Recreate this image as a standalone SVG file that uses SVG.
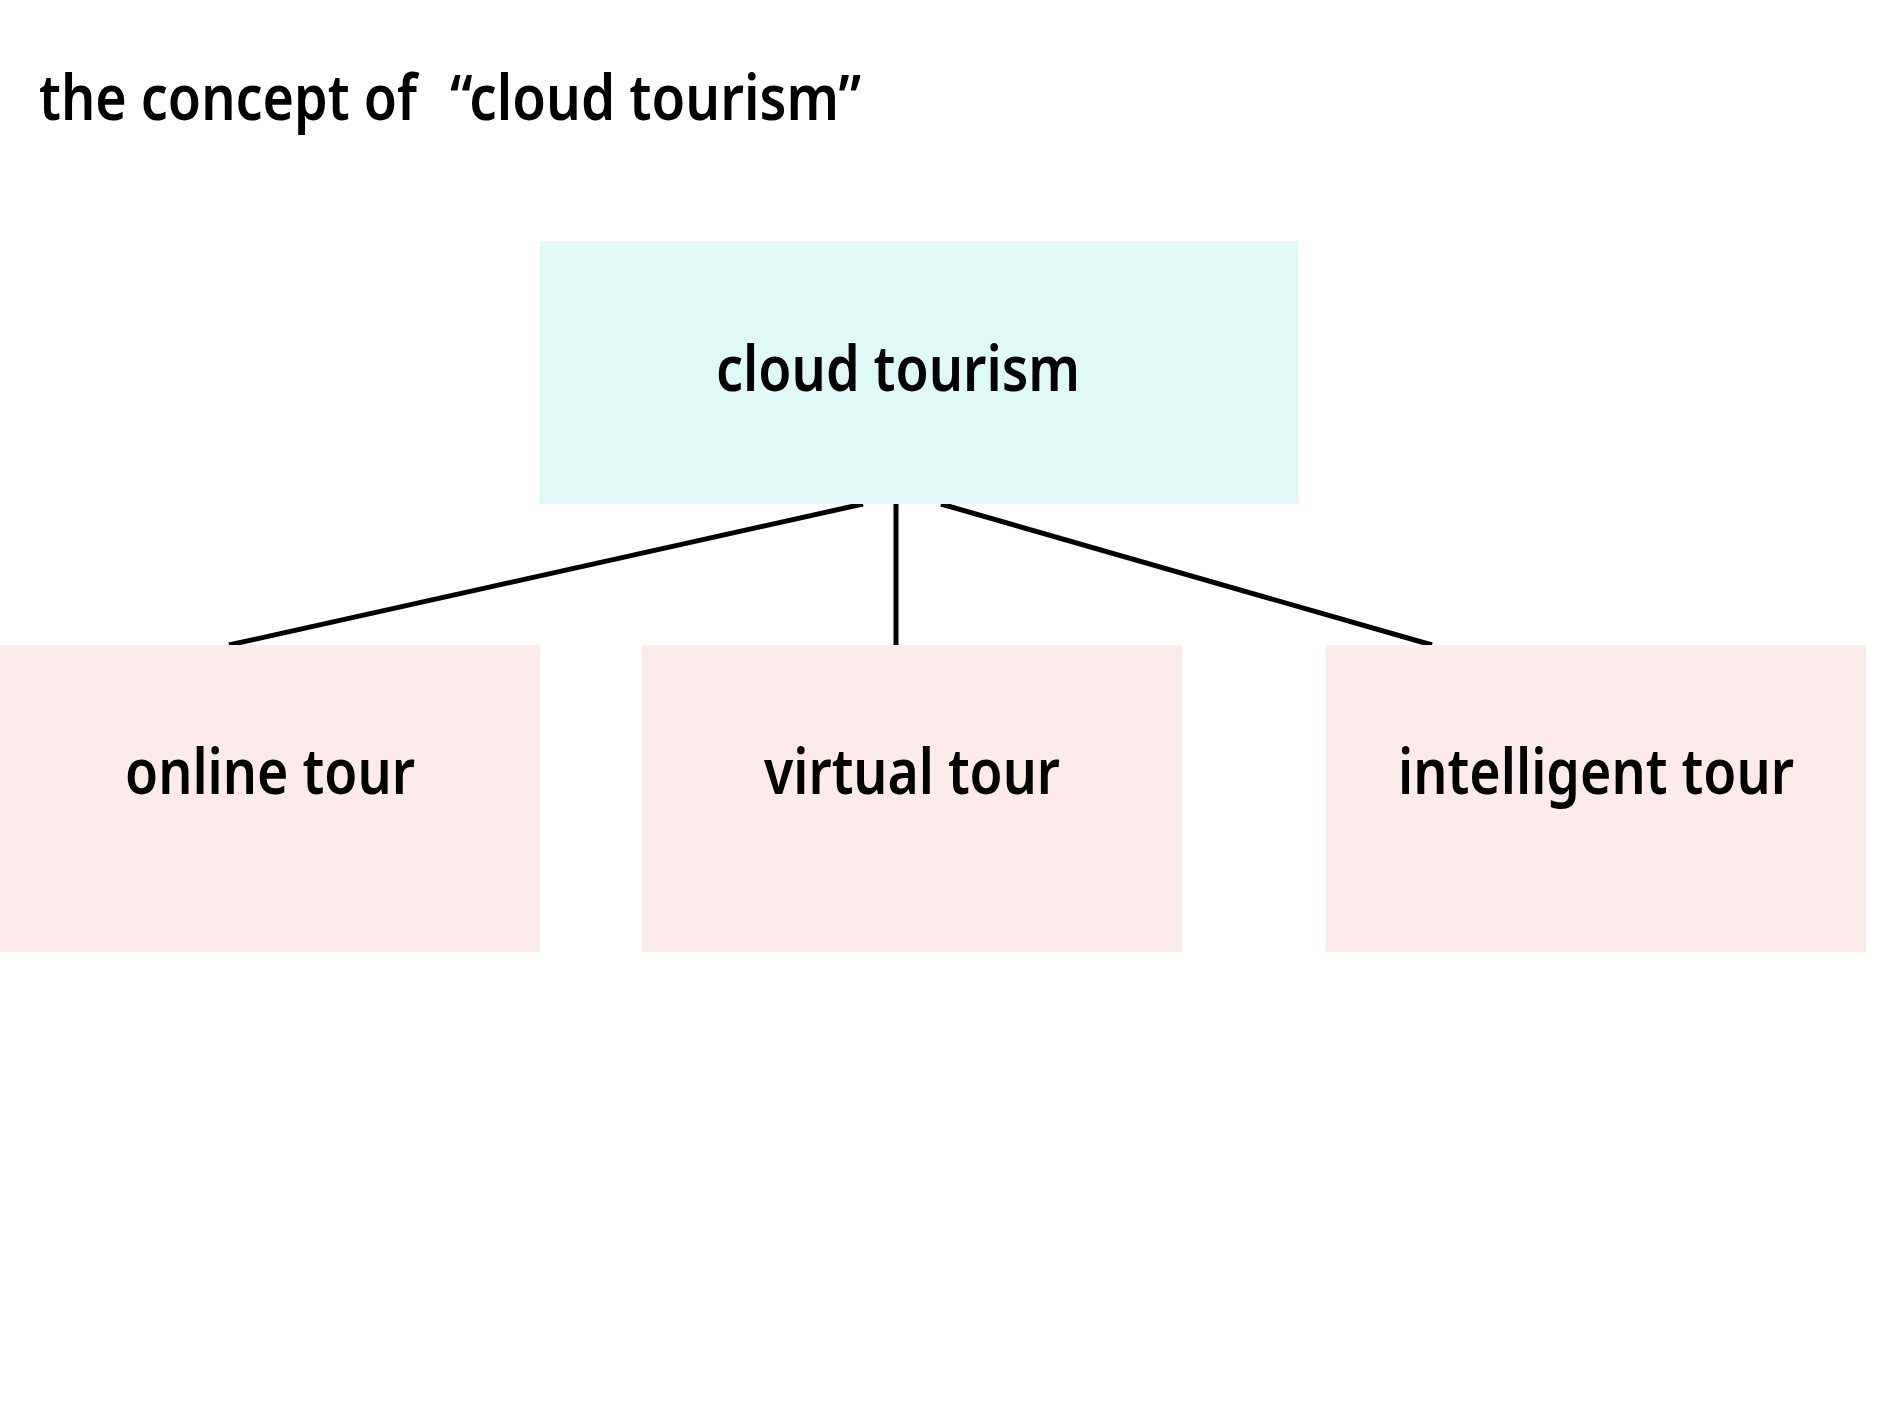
<svg xmlns="http://www.w3.org/2000/svg" width="1890" height="1417" viewBox="0 0 1890 1417">
<style>
.lbl{font-family:"Noto Sans","Open Sans","Liberation Sans",sans-serif;font-size:63px;font-weight:600;fill:#000;}
.top{fill:#dffaf6;}
.sub{fill:#fdeaea;}
.conn{stroke:#000;stroke-width:5;fill:none;}
</style>
<rect width="1890" height="1417" fill="#fff"/>
<g id="title">
<text class="lbl" x="39" y="120" textLength="378" lengthAdjust="spacingAndGlyphs">the concept of</text>
<text class="lbl" x="450" y="120" textLength="411" lengthAdjust="spacingAndGlyphs">“cloud tourism”</text>
</g>
<g id="connectors">
<line class="conn" x1="863" y1="504" x2="229" y2="645"/>
<line class="conn" x1="896" y1="504" x2="896" y2="645"/>
<line class="conn" x1="941" y1="504" x2="1432" y2="645"/>
</g>
<g id="node-cloud-tourism">
<rect class="top" x="540" y="241" width="758" height="263"/>
<text class="lbl" x="716" y="391" textLength="364" lengthAdjust="spacingAndGlyphs">cloud tourism</text>
</g>
<g id="node-online-tour">
<rect class="sub" x="0" y="645" width="540" height="307"/>
<text class="lbl" x="125" y="794" textLength="290" lengthAdjust="spacingAndGlyphs">online tour</text>
</g>
<g id="node-virtual-tour">
<rect class="sub" x="642" y="645" width="540" height="307"/>
<text class="lbl" x="764" y="794" textLength="296" lengthAdjust="spacingAndGlyphs">virtual tour</text>
</g>
<g id="node-intelligent-tour">
<rect class="sub" x="1326" y="645" width="540" height="307"/>
<text class="lbl" x="1398" y="794" textLength="396" lengthAdjust="spacingAndGlyphs">intelligent tour</text>
</g>
</svg>
